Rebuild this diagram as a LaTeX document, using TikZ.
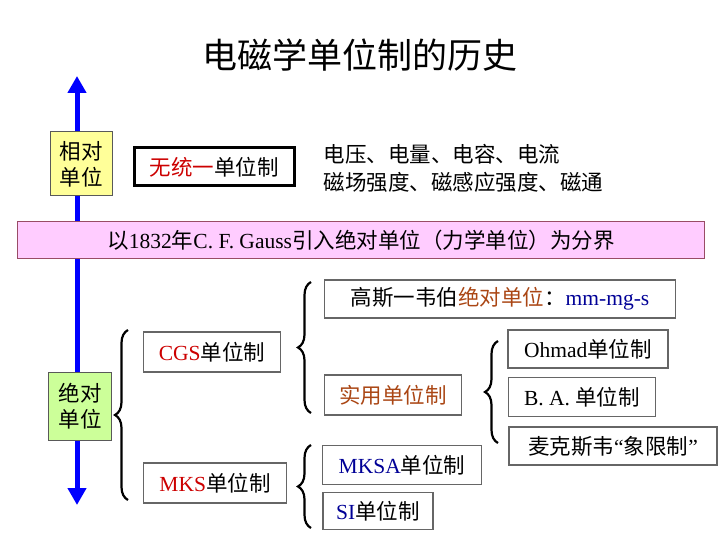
\documentclass[tikz,border=0pt]{standalone}
\usepackage{fontspec}
\setmainfont{Liberation Serif}
\newfontfamily\cjk{Noto Sans CJK SC}
\newcommand{\C}[1]{{\cjk #1}}
\usetikzlibrary{decorations.pathreplacing,arrows.meta}
\definecolor{myred}{RGB}{204,0,0}
\definecolor{mybrown}{RGB}{170,70,20}
\definecolor{mynavy}{RGB}{0,0,150}
\definecolor{myyellow}{RGB}{255,255,153}
\definecolor{mygreen}{RGB}{204,255,153}
\definecolor{mypink}{RGB}{255,204,255}
\begin{document}
\begin{tikzpicture}[x=1pt,y=-1pt,
  gbox/.style={draw=gray!80!black,line width=1.5pt,inner sep=0pt,font=\fontsize{21.5}{24}\selectfont},
  br/.style={decorate,decoration={brace,amplitude=13pt},line width=2.2pt}]
\useasboundingbox (0,0) rectangle (720,540);
\node (title) at (360,55) {\fontsize{35}{38}\selectfont\C{电磁学单位制的历史}};
\coordinate (atop) at (77,76);
\coordinate (abot) at (77,505);
\draw[blue,line width=5pt,{Triangle[width=18pt,length=17pt]}-{Triangle[width=18pt,length=17pt]}] (abot) -- (atop);
\node[gbox,fill=myyellow,draw=gray!70!black,line width=1pt,minimum width=62pt,minimum height=64pt,align=center] (rel) at (81,164) {\C{相对}\\[2pt]\C{单位}};
\node[draw=black,line width=3pt,minimum width=160pt,minimum height=38pt,font=\fontsize{21.5}{24}\selectfont] (none) at (214,167) {\C{\textcolor{myred}{无统一}单位制}};
\node[anchor=west,align=left,font=\fontsize{21.5}{28}\selectfont] (qty) at (320,168) {\C{电压、电量、电容、电流}\\\C{磁场强度、磁感应强度、磁通}};
\node[draw=gray!60!purple,line width=1pt,fill=mypink,minimum width=687pt,minimum height=37pt,font=\fontsize{21.5}{24}\selectfont] (band) at (361,240) {\C{以}1832\C{年}C. F. Gauss\C{引入绝对单位（力学单位）为分界}};
\node[gbox,fill=mygreen,draw=gray!70!black,line width=1pt,minimum width=63pt,minimum height=68pt,align=center] (abs) at (80,406) {\C{绝对}\\[2pt]\C{单位}};
\node[gbox,minimum width=137pt,minimum height=40pt] (cgs) at (212,352) {\textcolor{myred}{CGS}\C{单位制}};
\node[gbox,minimum width=143pt,minimum height=40pt] (mks) at (215,483) {\textcolor{myred}{MKS}\C{单位制}};
\node[gbox,minimum width=351pt,minimum height=38pt] (gauss) at (500,299) {\C{高斯一韦伯\textcolor{mybrown}{绝对单位}：}\textcolor{mynavy}{mm-mg-s}};
\node[gbox,minimum width=137pt,minimum height=40pt] (prac) at (393,395) {\C{\textcolor{mybrown}{实用单位制}}};
\node[gbox,minimum width=160pt,minimum height=38pt] (ohm) at (588,349) {Ohmad\C{单位制}};
\node[gbox,minimum width=147pt,minimum height=39pt] (ba) at (582,397) {B. A. \C{单位制}};
\node[gbox,minimum width=208pt,minimum height=38pt] (max) at (613,446) {\C{麦克斯韦}“\C{象限制}”};
\node[gbox,minimum width=159pt,minimum height=39pt] (mksa) at (402,465) {\textcolor{mynavy}{MKSA}\C{单位制}};
\node[gbox,minimum width=110pt,minimum height=37pt] (si) at (378,511) {\textcolor{mynavy}{SI}\C{单位制}};
\draw[br] (128,500) -- (128,330);
\draw[br] (311,413) -- (311,282);
\draw[br] (498,443) -- (498,341);
\draw[br] (311,528) -- (311,445);
\end{tikzpicture}
\end{document}
